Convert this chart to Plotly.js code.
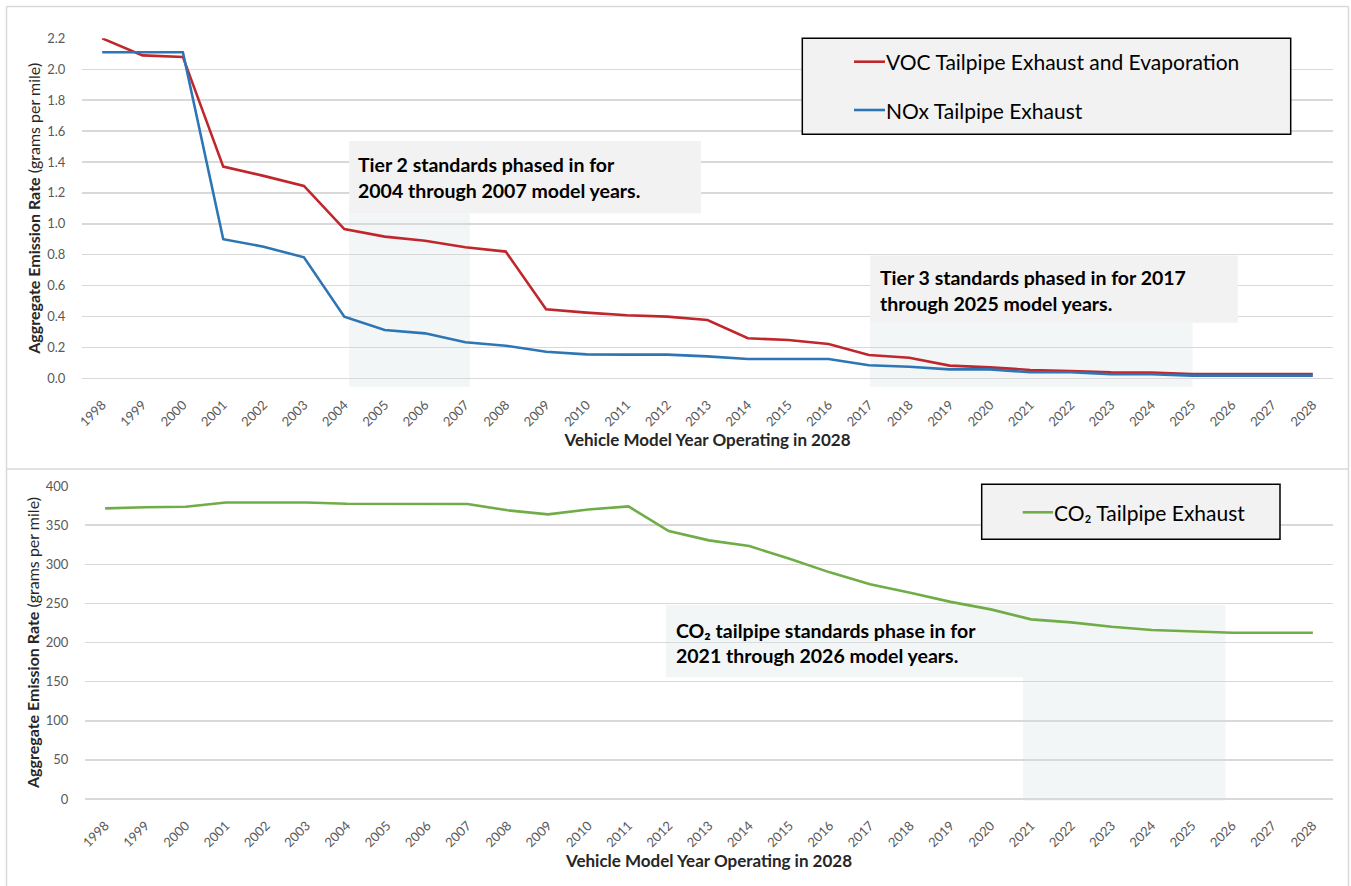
<!DOCTYPE html>
<html><head><meta charset="utf-8">
<script src="https://cdn.plot.ly/plotly-3.0.1.min.js"></script>
<style>html,body{margin:0;padding:0;background:#fff;}#chart{width:1351px;height:886px;}</style>
</head><body><div id="chart"></div>
<script>
// ---------------- data ----------------
const modelYears = [1998,1999,2000,2001,2002,2003,2004,2005,2006,2007,2008,2009,2010,2011,2012,2013,2014,2015,2016,2017,2018,2019,2020,2021,2022,2023,2024,2025,2026,2027,2028];
const yearLabels = modelYears.map(String);
const vocRate = [2.20,2.09,2.08,1.37,1.31,1.245,0.966,0.917,0.89,0.848,0.82,0.447,0.425,0.408,0.399,0.377,0.259,0.248,0.222,0.151,0.133,0.082,0.071,0.054,0.047,0.039,0.037,0.028,0.028,0.028,0.028];
const noxRate = [2.11,2.11,2.11,0.90,0.852,0.783,0.399,0.313,0.291,0.233,0.211,0.172,0.155,0.153,0.153,0.142,0.125,0.125,0.125,0.084,0.075,0.058,0.058,0.039,0.039,0.026,0.026,0.017,0.017,0.017,0.017];
const co2Rate = [371.5,373,373.5,379,379,379,377.4,377,377,377,369,363.8,370,374,342.5,330.6,323.3,307,289.7,274.4,263.6,252,242.4,229.6,225.8,220.2,216,214.3,212.5,212.5,212.5];
const seriesNames = ['VOC Tailpipe Exhaust and Evaporation','NOx Tailpipe Exhaust','CO\u2082 Tailpipe Exhaust'];
const tier2Note = ['Tier 2 standards phased in for','2004 through 2007 model years.'];
const tier3Note = ['Tier 3 standards phased in for 2017','through 2025 model years.'];
const co2Note = ['CO\u2082 tailpipe standards phase in for','2021 through 2026 model years.'];
const xTitle = 'Vehicle Model Year Operating in 2028';
const yTitle = '<b>Aggregate Emission Rate</b> (grams per mile)';

// ---------------- style ----------------
const W = 1351, H = 886;
const FONT = "Lato, 'Open Sans', sans-serif";
const RED = '#C0272D', BLUE = '#2E75B6', GREEN = '#70AD47';
const GRID = '#d9d9d9';
const SHADE = 'rgba(215,225,225,0.3)';
const px = x => x / W;
const py = y => 1 - y / H;

const traces = [
  {x: modelYears, y: vocRate, name: seriesNames[0], type: 'scatter', mode: 'lines', line: {color: RED, width: 2.6}, xaxis: 'x', yaxis: 'y', hoverinfo: 'x+y+name'},
  {x: modelYears, y: noxRate, name: seriesNames[1], type: 'scatter', mode: 'lines', line: {color: BLUE, width: 2.6}, xaxis: 'x', yaxis: 'y', hoverinfo: 'x+y+name'},
  {x: modelYears, y: co2Rate, name: seriesNames[2], type: 'scatter', mode: 'lines', line: {color: GREEN, width: 2.6}, xaxis: 'x2', yaxis: 'y2', hoverinfo: 'x+y+name'}
];

const tickFont = {family: FONT, size: 13, color: '#595959'};
const xTitleFont = {family: FONT, size: 17, color: '#262626'};
const yTitleFont = {family: FONT, size: 16, color: '#262626'};

function xAxis(domain, anchor) {
  return {
    domain: domain, anchor: anchor, range: [1997.5, 2028.5],
    tickmode: 'array', tickvals: modelYears, ticktext: yearLabels, tickangle: -45,
    showgrid: false, zeroline: false, showline: false,
    ticks: 'outside', ticklen: 13, tickcolor: 'rgba(0,0,0,0)',
    tickfont: tickFont,
    title: {text: '<b>' + xTitle + '</b>', font: xTitleFont, standoff: 3},
    automargin: false, fixedrange: true
  };
}
function yAxis(domain, anchor, range, dtick, fmt) {
  return {
    domain: domain, anchor: anchor, range: range, tick0: 0, dtick: dtick, tickformat: fmt,
    showgrid: true, gridcolor: GRID, gridwidth: 1.5,
    zeroline: true, zerolinecolor: GRID, zerolinewidth: 1.5, showline: false,
    ticks: 'outside', ticklen: 13, tickcolor: 'rgba(0,0,0,0)',
    tickfont: tickFont,
    title: {text: yTitle, font: yTitleFont, standoff: 2},
    automargin: false, fixedrange: true
  };
}

const shapes = [
  // panel frames
  {type: 'line', xref: 'paper', yref: 'paper', x0: px(6.5), x1: px(1348.5), y0: py(6.5), y1: py(6.5), line: {color: GRID, width: 1.5}},
  {type: 'line', xref: 'paper', yref: 'paper', x0: px(6.5), x1: px(1348.5), y0: py(469), y1: py(469), line: {color: GRID, width: 1.5}},
  {type: 'line', xref: 'paper', yref: 'paper', x0: px(6.5), x1: px(6.5), y0: py(6.5), y1: 0, line: {color: GRID, width: 1.5}},
  {type: 'line', xref: 'paper', yref: 'paper', x0: px(1348.5), x1: px(1348.5), y0: py(6.5), y1: 0, line: {color: GRID, width: 1.5}},
  // Tier 2
  {type: 'rect', xref: 'x', yref: 'y', x0: 2004.12, x1: 2012.84, y0: 1.068, y1: 1.536, fillcolor: '#f2f2f2', line: {width: 0}, layer: 'between'},
  {type: 'rect', xref: 'x', yref: 'y domain', x0: 2004.12, x1: 2007.11, y0: -0.0247, y1: 1.068 / 2.2, fillcolor: SHADE, line: {width: 0}, layer: 'below'},
  // Tier 3
  {type: 'rect', xref: 'x', yref: 'y', x0: 2017.03, x1: 2026.14, y0: 0.36, y1: 0.794, fillcolor: '#f2f2f2', line: {width: 0}, layer: 'between'},
  {type: 'rect', xref: 'x', yref: 'y domain', x0: 2017.03, x1: 2025.02, y0: -0.0247, y1: 0.36 / 2.2, fillcolor: SHADE, line: {width: 0}, layer: 'below'},
  // CO2
  {type: 'rect', xref: 'x2', yref: 'y2', x0: 2011.93, x1: 2020.80, y0: 155.5, y1: 248, fillcolor: SHADE, line: {width: 0}, layer: 'between'},
  {type: 'rect', xref: 'x2', yref: 'y2 domain', x0: 2020.80, x1: 2025.83, y0: -0.0055, y1: 248 / 400, fillcolor: SHADE, line: {width: 0}, layer: 'below'},
  // legend boxes
  {type: 'rect', xref: 'paper', yref: 'paper', x0: px(802.3), x1: px(1290.7), y0: py(134.3), y1: py(38.3), fillcolor: '#f2f2f2', line: {color: '#000', width: 1.5}, layer: 'above'},
  {type: 'line', xref: 'paper', yref: 'paper', x0: px(854), x1: px(885), y0: py(61.7), y1: py(61.7), line: {color: RED, width: 2.6}, layer: 'above'},
  {type: 'line', xref: 'paper', yref: 'paper', x0: px(854), x1: px(885), y0: py(110), y1: py(110), line: {color: BLUE, width: 2.6}, layer: 'above'},
  {type: 'rect', xref: 'paper', yref: 'paper', x0: px(981.7), x1: px(1280), y0: py(539.3), y1: py(484.3), fillcolor: '#f2f2f2', line: {color: '#000', width: 1.5}, layer: 'above'},
  {type: 'line', xref: 'paper', yref: 'paper', x0: px(1022.7), x1: px(1053), y0: py(512.3), y1: py(512.3), line: {color: GREEN, width: 2.6}, layer: 'above'}
];

const noteFont = {family: FONT, size: 19.5, color: '#000', weight: 700};
const legFont = {family: FONT, size: 21, color: '#000'};
function note(xref, yref, x, y, text) {
  return {xref: xref, yref: yref, x: x, y: y, text: text, showarrow: false, xanchor: 'left', yanchor: 'middle', font: noteFont, align: 'left'};
}
function leg(x, y, text) {
  return {xref: 'paper', yref: 'paper', x: px(x), y: py(y), text: text, showarrow: false, xanchor: 'left', yanchor: 'middle', font: legFont};
}
const annotations = [
  note('x', 'y', 2004.3, 1.381, tier2Note[0]),
  note('x', 'y', 2004.3, 1.214, tier2Note[1]),
  note('x', 'y', 2017.22, 0.651, tier3Note[0]),
  note('x', 'y', 2017.22, 0.481, tier3Note[1]),
  note('x2', 'y2', 2012.12, 216, co2Note[0]),
  note('x2', 'y2', 2012.12, 183.1, co2Note[1]),
  leg(884, 61.7, seriesNames[0]),
  leg(884, 110, seriesNames[1]),
  leg(1052, 512.3, seriesNames[2])
];

const layout = {
  width: W, height: H,
  margin: {l: 0, r: 0, t: 0, b: 0},
  paper_bgcolor: '#fff', plot_bgcolor: 'rgba(0,0,0,0)',
  showlegend: false,
  font: {family: FONT},
  xaxis: xAxis([82 / W, 1333 / W], 'y'),
  yaxis: yAxis([py(378.3), py(38.3)], 'x', [0, 2.2005], 0.2, '.1f'),
  xaxis2: xAxis([85 / W, 1333 / W], 'y2'),
  yaxis2: yAxis([py(799), py(486)], 'x2', [0, 400.1], 50, 'd'),
  shapes: shapes,
  annotations: annotations
};

Plotly.newPlot('chart', traces, layout, {displayModeBar: false, staticPlot: true});
</script>
</body></html>
